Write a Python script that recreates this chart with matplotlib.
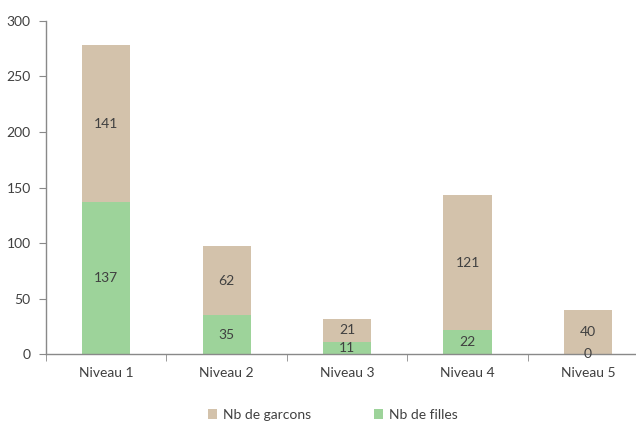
'''stacked bars: filles / garcons per niveau'''

import matplotlib.pyplot as plt
import numpy as np

NIVEAUX = ['Niveau 1', 'Niveau 2', 'Niveau 3', 'Niveau 4', 'Niveau 5']
NB_FILLES = [137, 35, 11, 22, 0]
NB_GARCONS = [141, 62, 21, 121, 40]

COL_FILLES = '#9DD39A'
COL_GARCONS = '#D3C2AB'
TXT = '#404040'
AXIS = '#898989'

plt.rcParams['font.family'] = ['Lato', 'DejaVu Sans']

fig = plt.figure(figsize=(6.36, 4.21), dpi=100)
# axes runs past the right edge, like the original crop
ax = fig.add_axes([0.0723, 0.1584, 0.947, 0.7924])

x = np.arange(len(NIVEAUX))
bars_f = ax.bar(x, NB_FILLES, width=0.4, color=COL_FILLES, label='Nb de filles')
bars_g = ax.bar(x, NB_GARCONS, width=0.4, bottom=NB_FILLES, color=COL_GARCONS,
                label='Nb de garcons')

# value labels centred in each segment
for i, (f, g) in enumerate(zip(NB_FILLES, NB_GARCONS)):
    ax.text(i, f / 2, str(f), ha='center', va='center', fontsize=10, color=TXT)
    ax.text(i, f + g / 2, str(g), ha='center', va='center', fontsize=10, color=TXT)

ax.set_xlim(-0.5, len(NIVEAUX) - 0.5)
ax.set_ylim(0, 300)
ax.set_yticks(range(0, 301, 50))
ax.set_xticks(x)
ax.set_xticklabels(NIVEAUX)
ax.set_xticks(np.arange(-0.5, len(NIVEAUX)), minor=True)
ax.tick_params(axis='x', which='major', length=0, pad=9, labelsize=10, labelcolor=TXT)
ax.tick_params(axis='x', which='minor', length=5, color=AXIS)
ax.tick_params(axis='y', length=5, color=AXIS, labelsize=10, labelcolor=TXT, pad=6)

for side in ['top', 'right']:
    ax.spines[side].set_visible(False)
for side in ['left', 'bottom']:
    ax.spines[side].set_color(AXIS)
    ax.spines[side].set_linewidth(1.0)

handles = [bars_g, bars_f]
fig.legend(handles, ['Nb de garcons', 'Nb de filles'], loc='center',
           bbox_to_anchor=(0.523, 0.014), ncol=2, frameon=False, fontsize=10,
           handlelength=0.7, handleheight=0.7, handletextpad=0.4,
           columnspacing=4.5, labelcolor=TXT)

fig.savefig('out.png', dpi=100)
